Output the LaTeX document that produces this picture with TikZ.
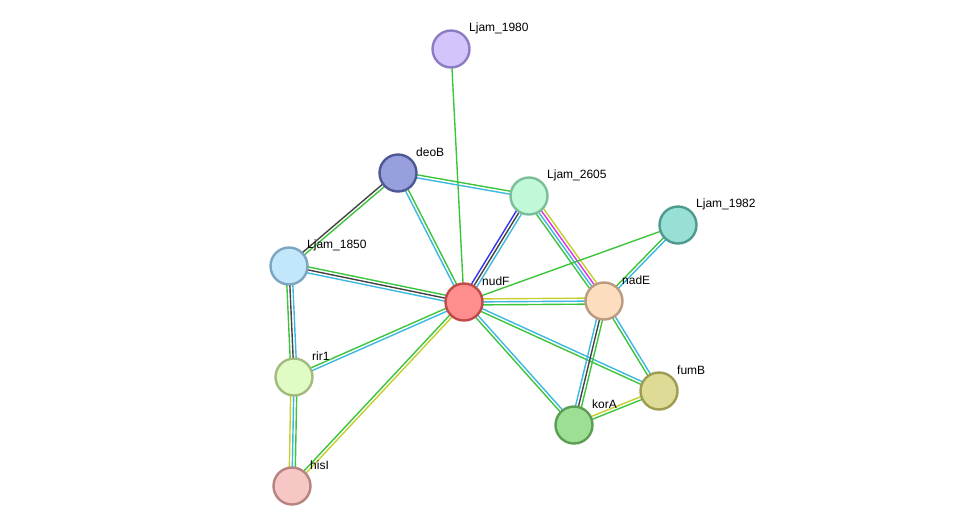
\documentclass[tikz,border=0pt]{standalone}
\usepackage{fontspec}
\newfontfamily\lblfont{Liberation Sans}
\usetikzlibrary{calc}

\definecolor{lkgreen}{HTML}{3DC43D}
\definecolor{lkcyan}{HTML}{3CB8E0}
\definecolor{lkblack}{HTML}{444444}
\definecolor{lkblue}{HTML}{3333F0}
\definecolor{lkmagenta}{HTML}{E033E0}
\definecolor{lkyellow}{HTML}{C4D030}

\tikzset{
	prot/.style={circle, minimum size=37pt, inner sep=0pt, line width=2.4pt},
	lbl/.style={anchor=west, inner sep=0pt, font=\lblfont\fontsize{12}{14}\selectfont},
	lk/.style={line width=1.4pt},
}
% #1 from, #2 to, #3 colour/offset pairs
\newcommand{\strlink}[3]{%
	\foreach \c/\o in {#3} {\draw[lk, \c] ($(#1)!\o pt!90:(#2)$) -- ($(#2)!\o pt!-90:(#1)$);}}

\begin{document}
\begin{tikzpicture}[x=1pt, y=-1pt]
	\useasboundingbox (0,0) rectangle (976,531);
	\coordinate (c1980) at (451,49);
	\coordinate (cdeoB) at (398,173);
	\coordinate (c2605) at (529,196);
	\coordinate (c1982) at (678,225);
	\coordinate (c1850) at (289,266);
	\coordinate (cnudF) at (464,302);
	\coordinate (cnadE) at (604,301);
	\coordinate (crir1) at (294,377);
	\coordinate (cfumB) at (659,391);
	\coordinate (ckorA) at (574,425);
	\coordinate (chisI) at (292,486);
	% links
	\strlink{c1980}{cnudF}{lkgreen/0}
	\strlink{cdeoB}{c2605}{lkgreen/1.5, lkcyan/-1.5}
	\strlink{cdeoB}{cnudF}{lkgreen/1.5, lkcyan/-1.5}
	\strlink{cdeoB}{c1850}{lkgreen/1.5, lkblack/-1.5}
	\strlink{c2605}{cnudF}{lkcyan/3, lkblack/0, lkblue/-3}
	\strlink{c2605}{cnadE}{lkyellow/4.5, lkmagenta/1.5, lkcyan/-1.5, lkgreen/-4.5}
	\strlink{c1850}{cnudF}{lkgreen/3, lkblack/0, lkcyan/-3}
	\strlink{c1850}{crir1}{lkcyan/3, lkblack/0, lkgreen/-3}
	\strlink{cnudF}{c1982}{lkgreen/0}
	\strlink{cnudF}{cnadE}{lkyellow/3, lkcyan/0, lkgreen/-3}
	\strlink{cnudF}{crir1}{lkcyan/1.5, lkgreen/-1.5}
	\strlink{cnudF}{chisI}{lkyellow/1.5, lkgreen/-1.5}
	\strlink{cnudF}{ckorA}{lkcyan/1.5, lkgreen/-1.5}
	\strlink{cnudF}{cfumB}{lkcyan/1.5, lkgreen/-1.5}
	\strlink{cnadE}{c1982}{lkgreen/1.5, lkcyan/-1.5}
	\strlink{cnadE}{ckorA}{lkgreen/3, lkblack/0, lkcyan/-3}
	\strlink{cnadE}{cfumB}{lkcyan/1.5, lkgreen/-1.5}
	\strlink{ckorA}{cfumB}{lkyellow/1.5, lkgreen/-1.5}
	\strlink{crir1}{chisI}{lkgreen/3, lkcyan/0, lkyellow/-3}
	% proteins
	\foreach \n/\t/\f/\d in {1980/Ljam\_1980/D4C4FC/8E7CC3, deoB/deoB/97A0DC/4D5894,
		2605/Ljam\_2605/C0F8D8/7BBF9A, 1982/Ljam\_1982/98DFD6/4E9A8F,
		1850/Ljam\_1850/C2E6FA/7BA5C0, nudF/nudF/FE8E8E/C04A4A,
		nadE/nadE/FDDDBF/BA9A80, rir1/rir1/E0FBC4/A1BC7E,
		fumB/fumB/DEDB96/9E9C50, korA/korA/9EDF96/5A9E52, hisI/hisI/F6C7C5/B68480} {
		\definecolor{pf}{HTML}{\f}\definecolor{pd}{HTML}{\d}
		\node[prot, fill=pf, draw=pd] (p\n) at (c\n) {};
		\node[lbl] (l\n) at ([shift={(18,-21)}]c\n) {\t};
	}
\end{tikzpicture}
\end{document}
